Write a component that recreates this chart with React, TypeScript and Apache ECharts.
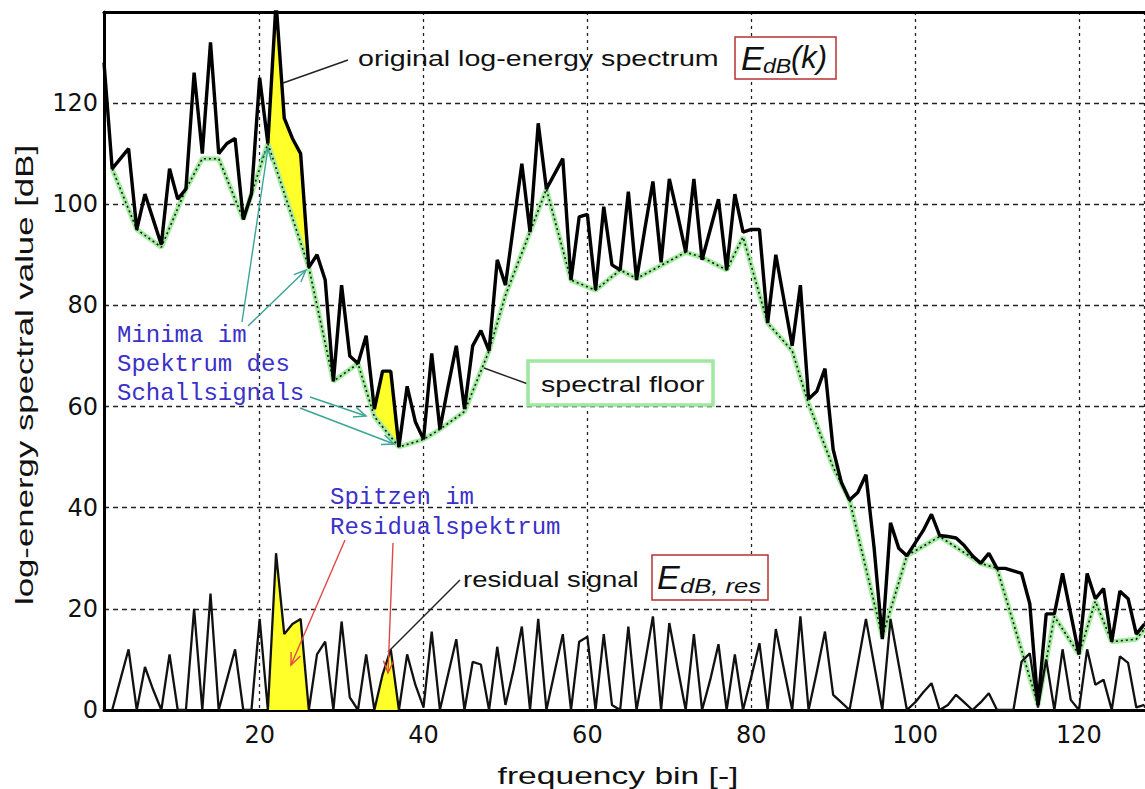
import React, { useEffect, useRef } from "react";
import * as echarts from "echarts";

// frequency bins 1..128
const bins: number[] = Array.from({ length: 128 }, (_, i) => i + 1);

// original log-energy spectrum E_dB(k)
const spectrum: number[] = [
  128, 107, 109, 111, 95, 102, 97, 92, 107, 101,
  103, 126, 110, 132, 110, 112, 113, 97, 102, 125,
  112, 140, 117, 113, 110, 87.5, 90, 85, 65, 84,
  70, 68.5, 74, 59.5, 67, 67, 52, 64, 57, 53.5,
  70.5, 55.5, 64, 72, 59.5, 72, 75, 71, 89, 84,
  96, 108, 94.5, 116, 103, 106, 109, 85, 97.5, 98,
  83, 99.5, 88, 87, 102.5, 85, 95, 104.5, 88.5, 105,
  98, 90.5, 105, 89, 95, 101, 87, 102, 94.5, 95,
  95, 76.5, 90, 81, 72, 84, 61.5, 63, 67.5, 51.5,
  45, 41.5, 43, 46.5, 32, 14, 37, 32, 30.5, 33,
  35.5, 38.7, 34.5, 34.3, 34, 32.5, 30.5, 29, 31, 28,
  28, 27.5, 27, 21, 1, 19, 19, 27, 19, 11,
  27, 22, 24, 13.5, 23.5, 22, 15, 17,
];

// spectral floor (vertices)
const floorBins: number[] = [
  2, 5, 8, 11, 13, 15, 18, 21, 26, 29,
  32, 34, 37, 40, 42, 45, 48, 50, 53, 55,
  58, 61, 64, 66, 72, 74, 77, 79, 82, 85,
  87, 90, 92, 96, 99, 103, 108, 110, 115, 117,
  120, 122, 124, 127, 128,
];
const floorValues: number[] = [
  107, 95, 91.5, 103, 109, 109, 97, 112, 87.5, 65,
  68.5, 58, 52, 53.5, 55.5, 59, 71, 82, 94.5, 103,
  85, 83, 87, 85.3, 90.5, 89.5, 87, 93.5, 76.5, 71,
  60.5, 48, 41.5, 14.5, 30.5, 34.3, 29, 28, 1, 18.5,
  11, 21.5, 13.5, 14, 16,
];

// residual signal E_dB,res
const residual: (number | null)[] = [
  null, 0, 6, 12, 0, 8.5, 4, 0, 11, 0,
  0, 20, 0, 23, 0, 6, 12, 0, 0, 18,
  0, 31, 15, 17, 18, 0, 11, 13.5, 0, 17.5,
  2.5, 0, 11, 0, 7, 12, 0, 11, 5, 0.5,
  15.5, 0, 7, 14, 0, 9.5, 9, 0, 12.5, 1,
  8, 16.5, 0, 18, 0, 7.5, 15, 0, 13.5, 14.5,
  0, 15, 1, 0, 16.5, 0, 9, 18.5, 0, 17.2,
  8.5, 0, 15, 0, 6, 13, 0, 11, 0, 6.5,
  13.2, 0, 16, 8, 0, 18.5, 0, 7.5, 15.5, 3,
  1.5, 0, 9, 18, 9, 0, 18, 9, 0, 1.5,
  3.5, 5.3, 0, 1, 3, 1.5, 0, 1.5, 3.3, 0,
  0, 0, 9.6, 11.2, 0.5, 10, 0, 12, 2, 0,
  12, 5, 6, 0, 10.6, 9.3, 0.5, 1,
];

// highlighted (yellow) bin ranges
const fillRanges: number[][] = [
  [21, 26],
  [34, 37],
];

const xTickLabels: number[] = [20, 40, 60, 80, 100, 120];
const yTickLabels: number[] = [0, 20, 40, 60, 80, 100, 120];

const SANS = "Liberation Sans, Arial, Helvetica, sans-serif";
const MONO = "Liberation Mono, Courier New, monospace";
const TEAL = "#3aa595";
const RED = "#e04848";
const BLUE = "#3b30c8";

function arrow(x1: number, y1: number, x2: number, y2: number, color: string, head = 13) {
  const a = Math.atan2(y2 - y1, x2 - x1);
  const sp = 0.4;
  const p1 = [x2 - head * Math.cos(a - sp), y2 - head * Math.sin(a - sp)];
  const p2 = [x2 - head * Math.cos(a + sp), y2 - head * Math.sin(a + sp)];
  return [
    { type: "line", z: 100, shape: { x1, y1, x2, y2 }, style: { stroke: color, lineWidth: 1.4 } },
    { type: "polyline", z: 100, shape: { points: [p1, [x2, y2], p2] }, style: { stroke: color, lineWidth: 1.4, fill: null } },
  ];
}

function txt(text: string, x: number, y: number, opts: any = {}) {
  return {
    type: "text",
    z: 101,
    x,
    y,
    scaleX: opts.scaleX ?? 1,
    rotation: opts.rotation ?? 0,
    style: {
      text,
      fontSize: opts.fontSize ?? 22,
      fontFamily: opts.fontFamily ?? SANS,
      fontStyle: opts.fontStyle ?? "normal",
      fontWeight: opts.fontWeight ?? "normal",
      fill: opts.fill ?? "#111",
      align: opts.align ?? "left",
      verticalAlign: "middle",
    },
  };
}

export default function App() {
  const ref = useRef<HTMLDivElement>(null);

  useEffect(() => {
    if (!ref.current) return;
    const chart = echarts.init(ref.current, null, { renderer: "svg" });

    const spectrumData = bins.map((b, i) => [b, spectrum[i]]);
    const floorData = floorBins.map((b, i) => [b, floorValues[i]]);
    const residualData = bins.map((b, i) => [b, residual[i]]);

    const fillSeries = (kind: "spectrum" | "residual") => ({
      type: "custom",
      z: 2,
      clip: true,
      silent: true,
      data: fillRanges.map((r) => [r[0], 0]),
      renderItem: (params: any, api: any) => {
        const [s, e] = fillRanges[params.dataIndex];
        const pts: number[][] = [];
        if (kind === "spectrum") {
          for (let b = s; b <= e; b++) pts.push(api.coord([b, spectrum[b - 1]]));
          for (let j = floorBins.length - 1; j >= 0; j--) {
            if (floorBins[j] >= s && floorBins[j] <= e) pts.push(api.coord([floorBins[j], floorValues[j]]));
          }
        } else {
          for (let b = s; b <= e; b++) pts.push(api.coord([b, residual[b - 1] as number]));
          pts.push(api.coord([e, 0]));
          pts.push(api.coord([s, 0]));
        }
        return { type: "polygon", shape: { points: pts }, style: { fill: "#ffff2a", stroke: null } };
      },
    });

    const graphic: any[] = [
      // axis names
      txt("frequency bin [-]", 618, 776, { align: "center", fontSize: 24, scaleX: 1.4 }),
      txt("log-energy spectral value [dB]", 25, 375, { align: "center", fontSize: 24, scaleX: 1.45, rotation: Math.PI / 2 }),

      // original spectrum annotation
      { type: "line", z: 100, shape: { x1: 348, y1: 60, x2: 283, y2: 83 }, style: { stroke: "#222", lineWidth: 1.4 } },
      txt("original log-energy spectrum", 358, 58, { fontSize: 22, scaleX: 1.3 }),
      { type: "rect", z: 100, shape: { x: 735, y: 37, width: 101, height: 42 }, style: { fill: "#fff", stroke: "#b83232", lineWidth: 1.5 } },
      txt("E", 741, 58, { fontSize: 34, fontStyle: "italic" }),
      txt("dB", 763, 66, { fontSize: 21, fontStyle: "italic", scaleX: 1.1 }),
      txt("(k)", 791, 57, { fontSize: 31, fontStyle: "italic" }),

      // spectral floor annotation
      { type: "line", z: 100, shape: { x1: 484, y1: 368, x2: 528, y2: 384 }, style: { stroke: "#222", lineWidth: 1.4 } },
      { type: "rect", z: 100, shape: { x: 528, y: 361, width: 185, height: 44 }, style: { fill: "#fff", stroke: "#9fe89f", lineWidth: 3.5 } },
      txt("spectral floor", 541, 384, { fontSize: 22, scaleX: 1.3 }),

      // residual annotation
      { type: "line", z: 100, shape: { x1: 460, y1: 580, x2: 388, y2: 652 }, style: { stroke: "#222", lineWidth: 1.4 } },
      txt("residual signal", 463, 579, { fontSize: 22, scaleX: 1.25 }),
      { type: "rect", z: 100, shape: { x: 652, y: 555, width: 116, height: 45 }, style: { fill: "#fff", stroke: "#b83232", lineWidth: 1.5 } },
      txt("E", 657, 577, { fontSize: 34, fontStyle: "italic" }),
      txt("dB, res", 680, 586, { fontSize: 21, fontStyle: "italic", scaleX: 1.22 }),

      // blue notes
      txt("Minima im", 117, 335, { fontFamily: MONO, fontSize: 24, fill: BLUE }),
      txt("Spektrum des", 117, 364, { fontFamily: MONO, fontSize: 24, fill: BLUE }),
      txt("Schallsignals", 117, 393, { fontFamily: MONO, fontSize: 24, fill: BLUE }),
      txt("Spitzen im", 330, 497, { fontFamily: MONO, fontSize: 24, fill: BLUE }),
      txt("Residualspektrum", 330, 527, { fontFamily: MONO, fontSize: 24, fill: BLUE }),

      // teal arrows (minima)
      ...arrow(242, 322, 268, 148, TEAL),
      ...arrow(248, 326, 306, 270, TEAL),
      ...arrow(310, 397, 366, 416, TEAL),
      ...arrow(300, 408, 394, 444, TEAL),

      // red arrows (peaks)
      ...arrow(345, 540, 291, 665, RED),
      ...arrow(393, 543, 388, 673, RED),
    ];

    chart.setOption({
      animation: false,
      backgroundColor: "#fff",
      grid: { left: 104, top: 12, width: 1040.5, height: 698, containLabel: false },
      xAxis: [
        {
          type: "value",
          min: 1,
          max: 128,
          splitNumber: 6,
          minInterval: 20,
          maxInterval: 20,
          axisLine: { show: true, lineStyle: { color: "#000", width: 3 } },
          axisTick: { show: false },
          axisLabel: {
            color: "#111",
            fontFamily: "DejaVu Sans, sans-serif",
            fontSize: 24,
            margin: 13,
            showMinLabel: false,
            showMaxLabel: false,
            formatter: (v: number) => (xTickLabels.includes(v) ? String(v) : ""),
          },
          splitLine: { show: true, lineStyle: { color: "#222", width: 1.3, type: [3, 4] } },
        },
        {
          type: "value",
          position: "top",
          min: 1,
          max: 128,
          axisLine: { show: true, onZero: false, lineStyle: { color: "#000", width: 3 } },
          axisTick: { show: false },
          axisLabel: { show: false },
          splitLine: { show: false },
        },
      ],
      yAxis: {
        type: "value",
        min: 0,
        max: 138,
        interval: 20,
        axisLine: { show: true, lineStyle: { color: "#000", width: 3 } },
        axisTick: { show: false },
        axisLabel: {
          color: "#111",
          fontFamily: "DejaVu Sans, sans-serif",
          fontSize: 24,
          margin: 6,
          showMaxLabel: false,
          formatter: (v: number) => (yTickLabels.includes(v) ? String(v) : ""),
        },
        splitLine: { show: true, lineStyle: { color: "#222", width: 1.3, type: [5, 4] } },
      },
      graphic,
      series: [
        fillSeries("spectrum"),
        fillSeries("residual"),
        {
          name: "spectral floor (green)",
          type: "line",
          data: floorData,
          z: 3,
          symbol: "none",
          silent: true,
          lineStyle: { color: "#a3ec9f", width: 5 },
        },
        {
          name: "spectral floor",
          type: "line",
          data: floorData,
          z: 4,
          symbol: "none",
          silent: true,
          lineStyle: { color: "#111", width: 1.6, type: [2, 3] },
        },
        {
          name: "residual signal",
          type: "line",
          data: residualData,
          z: 5,
          symbol: "none",
          silent: true,
          lineStyle: { color: "#111", width: 2.3 },
        },
        {
          name: "original log-energy spectrum",
          type: "line",
          data: spectrumData,
          z: 6,
          symbol: "none",
          silent: true,
          lineStyle: { color: "#000", width: 3.4 },
        },
      ],
    });

    return () => chart.dispose();
  }, []);

  return (
    <div
      ref={ref}
      style={{ position: "fixed", left: 0, top: 0, width: 1145, height: 789, background: "#fff" }}
    />
  );
}
